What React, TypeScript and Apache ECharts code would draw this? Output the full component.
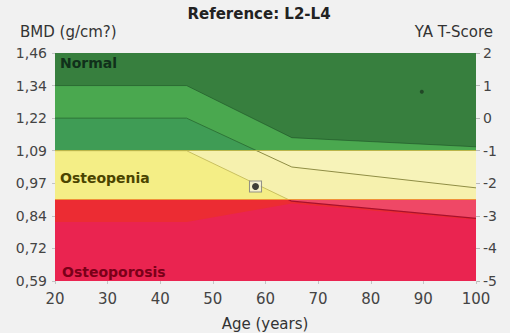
import React, { useEffect, useRef } from "react";
import * as echarts from "echarts";

// Age break points of the reference curves (years)
const ages = [20, 45, 65, 100];
// Reference curves, expressed in YA T-score units
const upperSdCurve = [1, 1, -0.6, -0.88];
const meanCurve = [0, 0, -1.5, -2.14];
const lowerSdCurve = [-1, -1, -2.55, -3.08];
const deepCurve = [-3.19, -3.19, -2.62, -3.12];

// WHO thresholds (T-score)
const normalMin = -1;
const osteopeniaMin = -2.5;
const tMin = -5;
const tMax = 2;

// Tick labels
const bmdLabels = ["0,59", "0,72", "0,84", "0,97", "1,09", "1,22", "1,34", "1,46"];
const tScoreLabels = ["-5", "-4", "-3", "-2", "-1", "0", "1", "2"];
const ageMin = 20;
const ageMax = 100;
const ageStep = 10;

// Measurements
const patientPoint = [[58.1, -2.1]];
const extraPoint = [[89.7, 0.81]];

const FONT = "DejaVu Sans";

export default function App() {
  const ref = useRef<HTMLDivElement>(null);
  useEffect(() => {
    if (!ref.current) return;
    const chart = echarts.init(ref.current, null, { renderer: "svg" });
    const top = 53;
    const plotH = 228;
    const unit = plotH / (tMax - tMin);
    const left = 55;
    const right = 34;
    const pairs = (vals: number[]) => ages.map((a, i) => [a, vals[i]]);

    const area = (gi: number, vals: number[], color: string) => ({
      type: "line",
      xAxisIndex: gi,
      yAxisIndex: gi + 1,
      data: pairs(vals),
      symbol: "none",
      silent: true,
      clip: true,
      lineStyle: { width: 0, opacity: 0 },
      areaStyle: { color, opacity: 1, origin: "end" },
      z: 2,
    });
    const curve = (gi: number, vals: number[], color: string, width = 1) => ({
      type: "line",
      xAxisIndex: gi,
      yAxisIndex: gi + 1,
      data: pairs(vals),
      symbol: "none",
      silent: true,
      clip: true,
      lineStyle: { color, width },
      z: 3,
    });

    const hiddenX = (gi: number) => ({
      type: "value",
      gridIndex: gi,
      min: ageMin,
      max: ageMax,
      show: false,
      axisLine: { onZero: false },
    });
    const hiddenY = (gi: number, min: number, max: number) => ({
      type: "value",
      gridIndex: gi,
      min,
      max,
      show: false,
    });

    chart.setOption({
      animation: false,
      backgroundColor: "#f1f1f1",
      grid: [
        { left, right, top, height: plotH, show: false },
        {
          left, right, top, height: (tMax - normalMin) * unit,
          show: true, backgroundColor: "#3f9c55", borderWidth: 0,
        },
        {
          left, right, top: top + (tMax - normalMin) * unit,
          height: (normalMin - osteopeniaMin) * unit,
          show: true, backgroundColor: "#f4ee86", borderWidth: 0,
        },
        {
          left, right, top: top + (tMax - osteopeniaMin) * unit,
          height: (osteopeniaMin - tMin) * unit,
          show: true, backgroundColor: "#ea2450", borderWidth: 0,
        },
      ],
      xAxis: [
        {
          type: "value",
          gridIndex: 0,
          min: ageMin,
          max: ageMax,
          interval: ageStep,
          axisLine: { show: false, onZero: false },
          axisTick: { show: true, length: 3, lineStyle: { color: "#c4c4c4" } },
          splitLine: { show: false },
          axisLabel: { margin: 10, color: "#444", fontSize: 15, fontFamily: FONT },
        },
        hiddenX(1),
        hiddenX(2),
        hiddenX(3),
      ],
      yAxis: [
        {
          type: "value",
          gridIndex: 0,
          position: "left",
          min: tMin,
          max: tMax,
          interval: 1,
          axisLine: { show: false },
          axisTick: { show: true, length: 3, lineStyle: { color: "#c4c4c4" } },
          splitLine: { show: false },
          axisLabel: {
            margin: 8,
            color: "#444",
            fontSize: 14,
            fontFamily: FONT,
            formatter: (v: number) => bmdLabels[Math.round(v - tMin)],
          },
        },
        {
          type: "value",
          gridIndex: 0,
          position: "right",
          min: tMin,
          max: tMax,
          interval: 1,
          axisLine: { show: false },
          axisTick: { show: true, length: 4, lineStyle: { color: "#b8b8b8" } },
          splitLine: { show: false },
          axisLabel: {
            margin: 7,
            color: "#444",
            fontSize: 14,
            fontFamily: FONT,
            formatter: (v: number) => tScoreLabels[Math.round(v - tMin)],
          },
        },
        hiddenY(1, normalMin, tMax),
        hiddenY(2, osteopeniaMin, normalMin),
        hiddenY(3, tMin, osteopeniaMin),
      ],
      graphic: [
        {
          type: "text", x: 259, y: 14,
          style: {
            text: "Reference: L2-L4", fill: "#222", font: `bold 15px "${FONT}"`,
            textAlign: "center", textVerticalAlign: "middle",
          },
        },
        {
          type: "text", x: 20, y: 32,
          style: {
            text: "BMD (g/cm?)", fill: "#333", font: `15px "${FONT}"`,
            textAlign: "left", textVerticalAlign: "middle",
          },
        },
        {
          type: "text", x: 493, y: 32,
          style: {
            text: "YA T-Score", fill: "#333", font: `15px "${FONT}"`,
            textAlign: "right", textVerticalAlign: "middle",
          },
        },
        {
          type: "text", x: 265, y: 324,
          style: {
            text: "Age (years)", fill: "#333", font: `15px "${FONT}"`,
            textAlign: "center", textVerticalAlign: "middle",
          },
        },
        {
          type: "text", x: 60, y: 63, z: 10,
          style: {
            text: "Normal", fill: "#10301a", font: `bold 14px "${FONT}"`,
            textAlign: "left", textVerticalAlign: "middle",
          },
        },
        {
          type: "text", x: 60, y: 178, z: 10,
          style: {
            text: "Osteopenia", fill: "#4a4400", font: `bold 14px "${FONT}"`,
            textAlign: "left", textVerticalAlign: "middle",
          },
        },
        {
          type: "text", x: 62, y: 272, z: 10,
          style: {
            text: "Osteoporosis", fill: "#7a0018", font: `bold 14px "${FONT}"`,
            textAlign: "left", textVerticalAlign: "middle",
          },
        },
      ],
      series: [
        // Normal zone (green)
        area(1, meanCurve, "#4aa84f"),
        area(1, upperSdCurve, "#377f3e"),
        curve(1, upperSdCurve, "rgba(25,75,35,0.55)"),
        curve(1, meanCurve, "#2e7438"),
        // Osteopenia zone (yellow)
        area(2, lowerSdCurve, "#f6f1ae"),
        area(2, meanCurve, "#f7f3b9"),
        curve(2, meanCurve, "#8f8d45"),
        curve(2, lowerSdCurve, "#c9c060"),
        // Osteoporosis zone (red)
        area(3, deepCurve, "#ec2c33"),
        area(3, lowerSdCurve, "#ef4866"),
        curve(3, lowerSdCurve, "#a8102c", 1.2),
        // Zone boundaries
        {
          type: "line",
          xAxisIndex: 0,
          yAxisIndex: 0,
          data: [],
          silent: true,
          markLine: {
            silent: true,
            symbol: "none",
            label: { show: false },
            data: [
              { yAxis: normalMin, lineStyle: { color: "#b9b54a", width: 1, type: "solid" } },
              { yAxis: osteopeniaMin, lineStyle: { color: "#f0903a", width: 1.2, type: "solid" } },
            ],
          },
          z: 4,
        },
        {
          type: "scatter",
          xAxisIndex: 0,
          yAxisIndex: 0,
          data: patientPoint,
          symbol: "rect",
          symbolSize: [12, 11],
          itemStyle: { color: "rgba(245,243,228,0.9)", borderColor: "#7a7a7a", borderWidth: 1 },
          silent: true,
          z: 6,
        },
        {
          type: "scatter",
          xAxisIndex: 0,
          yAxisIndex: 0,
          data: patientPoint,
          symbol: "circle",
          symbolSize: 7,
          itemStyle: { color: "#111" },
          silent: true,
          z: 7,
        },
        {
          type: "scatter",
          xAxisIndex: 0,
          yAxisIndex: 0,
          data: extraPoint,
          symbol: "circle",
          symbolSize: 4,
          itemStyle: { color: "#1b3a20" },
          silent: true,
          z: 7,
        },
      ],
    });
    return () => chart.dispose();
  }, []);
  return (
    <div
      ref={ref}
      style={{ position: "absolute", left: 0, top: 0, width: 510, height: 333 }}
    />
  );
}
